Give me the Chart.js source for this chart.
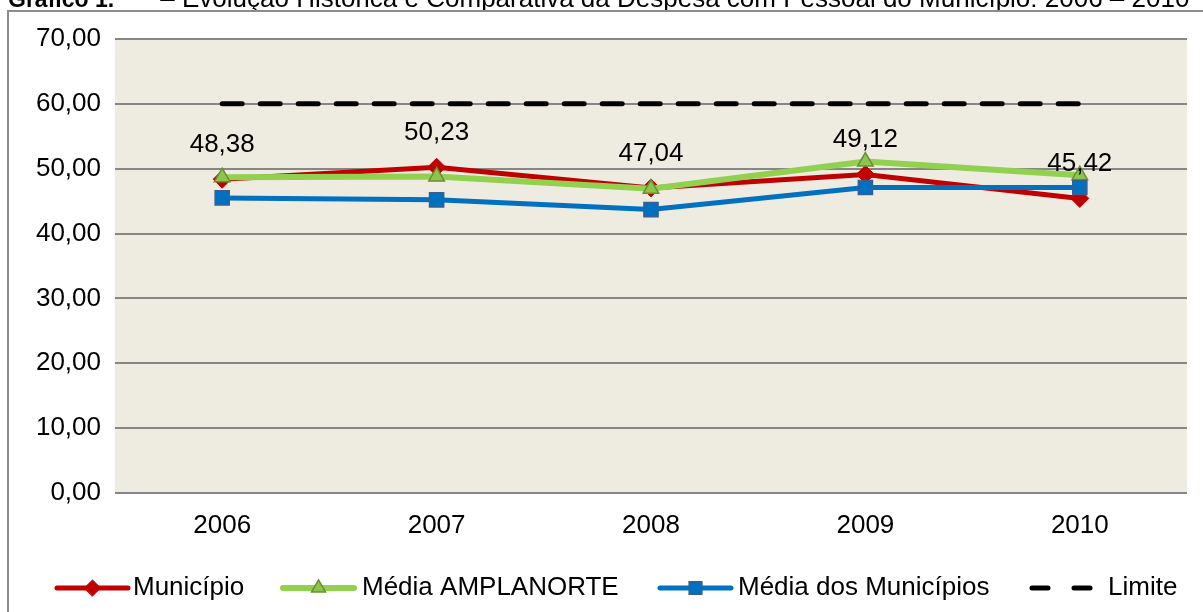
<!DOCTYPE html>
<html>
<head>
<meta charset="utf-8">
<script src="https://cdn.jsdelivr.net/npm/chart.js@4/dist/chart.umd.min.js"></script>
<style>
  html, body { margin: 0; padding: 0; background: #ffffff; }
  #wrap { width: 1203px; height: 612px; position: relative; }
</style>
</head>
<body>
<div id="wrap"><canvas id="c" width="1203" height="612"></canvas></div>
<script>
const categories = ['2006', '2007', '2008', '2009', '2010'];
const municipio = [48.38, 50.23, 47.04, 49.12, 45.42];
const amplanorte = [48.7, 48.8, 46.9, 51.1, 49.0];
const mediaMunicipios = [45.5, 45.2, 43.7, 47.1, 47.1];
const limite = [60, 60, 60, 60, 60];
const seriesNames = ['Município', 'Média AMPLANORTE', 'Média dos Municípios', 'Limite'];
const yTickValues = [0, 10, 20, 30, 40, 50, 60, 70];
const titleBold = 'Gráfico 1.';
const titleRest = '– Evolução Histórica e Comparativa da Despesa com Pessoal do Município: 2006 – 2010';

const FONT = '"Liberation Sans", Arial, sans-serif';
const fmt = v => v.toFixed(2).replace('.', ',');

const bgPlugin = {
  id: 'bg',
  beforeDraw(chart) {
    const ctx = chart.ctx, a = chart.chartArea;
    ctx.save();
    ctx.fillStyle = '#ffffff';
    ctx.fillRect(0, 0, chart.width, chart.height);
    // title (partially cut at top)
    ctx.fillStyle = '#000000';
    ctx.textBaseline = 'alphabetic';
    ctx.font = 'bold 23px ' + FONT;
    ctx.fillText(titleBold, 8, 7);
    ctx.font = '26px ' + FONT;
    const pre = '– Evolução Histórica e Comparativa da ';
    const x0 = 617 - ctx.measureText(pre).width;
    ctx.fillText(titleRest, x0, 7);
    // outer frame
    ctx.strokeStyle = '#8c8c8c';
    ctx.lineWidth = 2;
    ctx.strokeRect(8, 11, 1250, 700);
    // plot background
    ctx.fillStyle = '#EEECE1';
    ctx.fillRect(a.left, a.top, a.right - a.left, a.bottom - a.top);
    ctx.restore();
  }
};

const labelPlugin = {
  id: 'labels',
  afterDatasetsDraw(chart) {
    const ctx = chart.ctx;
    const meta = chart.getDatasetMeta(0);
    ctx.save();
    ctx.font = '26px ' + FONT;
    ctx.fillStyle = '#000000';
    ctx.textAlign = 'center';
    ctx.textBaseline = 'alphabetic';
    meta.data.forEach((pt, i) => {
      ctx.fillText(fmt(municipio[i]), pt.x, pt.y - 27);
    });
    ctx.restore();
  },
  afterDraw(chart) {
    const ctx = chart.ctx;
    const y = 588;
    const items = [
      { ds: 0, x1: 57, x2: 128, tx: 133 },
      { ds: 1, x1: 283, x2: 354, tx: 362 },
      { ds: 2, x1: 660, x2: 731, tx: 738 },
      { ds: 3, x1: 1029, x2: 1092, tx: 1108 }
    ];
    ctx.save();
    items.forEach(it => {
      const d = chart.data.datasets[it.ds];
      ctx.strokeStyle = d.borderColor;
      ctx.lineWidth = d.borderWidth;
      ctx.lineCap = 'round';
      ctx.setLineDash([]);
      if (d.borderDash && d.borderDash.length) {
        ctx.beginPath();
        ctx.moveTo(1032, y); ctx.lineTo(1048, y);
        ctx.moveTo(1074, y); ctx.lineTo(1090, y);
        ctx.stroke();
      } else {
        ctx.beginPath();
        ctx.moveTo(it.x1, y); ctx.lineTo(it.x2, y);
        ctx.stroke();
        ctx.fillStyle = d.pointBackgroundColor;
        ctx.strokeStyle = d.pointBorderColor;
        ctx.lineWidth = d.pointBorderWidth;
        Chart.helpers.drawPoint(ctx, {
          pointStyle: d.pointStyle,
          radius: d.pointRadius * 0.9,
          borderWidth: d.pointBorderWidth,
          rotation: 0
        }, (it.x1 + it.x2) / 2, y);
      }
      ctx.fillStyle = '#000000';
      ctx.font = '26px ' + FONT;
      ctx.textAlign = 'left';
      ctx.textBaseline = 'middle';
      ctx.fillText(seriesNames[it.ds], it.tx, y);
    });
    ctx.restore();
  }
};

new Chart(document.getElementById('c'), {
  type: 'line',
  data: {
    labels: categories,
    datasets: [
      {
        label: seriesNames[0], data: municipio, order: 4,
        borderColor: '#C00000', borderWidth: 5,
        pointStyle: 'rectRot', pointRadius: 9, pointHoverRadius: 9,
        pointBackgroundColor: '#C00000', pointBorderColor: '#C00000', pointBorderWidth: 1,
        tension: 0
      },
      {
        label: seriesNames[1], data: amplanorte, order: 3,
        borderColor: '#92D050', borderWidth: 6,
        pointStyle: 'triangle', pointRadius: 9, pointHoverRadius: 9,
        pointBackgroundColor: '#8CC54B', pointBorderColor: '#6B8E35', pointBorderWidth: 1.5,
        tension: 0
      },
      {
        label: seriesNames[2], data: mediaMunicipios, order: 2,
        borderColor: '#0070C0', borderWidth: 5,
        pointStyle: 'rect', pointRadius: 10, pointHoverRadius: 10,
        pointBackgroundColor: '#0070C0', pointBorderColor: '#3A5F8F', pointBorderWidth: 1.5,
        tension: 0
      },
      {
        label: seriesNames[3], data: limite, order: 1,
        borderColor: '#000000', borderWidth: 5, borderDash: [20, 18], borderCapStyle: 'round',
        pointRadius: 0, pointHoverRadius: 0,
        tension: 0
      }
    ]
  },
  options: {
    responsive: false,
    animation: false,
    events: [],
    layout: { padding: { left: 0, right: 16, top: 39, bottom: 0 } },
    plugins: {
      legend: { display: false },
      tooltip: { enabled: false },
      title: { display: false }
    },
    scales: {
      x: {
        type: 'category',
        offset: true,
        grid: { display: false, drawTicks: false },
        border: { display: false },
        ticks: { color: '#000000', font: { family: FONT, size: 26 }, padding: 17, maxRotation: 0 },
        afterFit(s) { s.height = 119; }
      },
      y: {
        min: 0, max: 70,
        afterBuildTicks(s) { s.ticks = yTickValues.map(v => ({ value: v })); },
        grid: { color: '#868686', lineWidth: 2, drawTicks: false },
        border: { display: false },
        ticks: {
          color: '#000000', font: { family: FONT, size: 26 }, padding: 14,
          callback: v => fmt(v)
        },
        afterFit(s) { s.width = 115; }
      }
    }
  },
  plugins: [bgPlugin, labelPlugin]
});
</script>
</body>
</html>
